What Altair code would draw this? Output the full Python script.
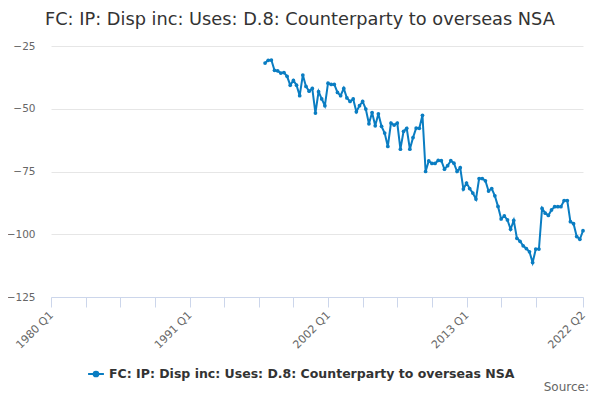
import altair as alt
import pandas as pd

series_name = "FC: IP: Disp inc: Uses: D.8: Counterparty to overseas NSA"
title_text = "FC: IP: Disp inc: Uses: D.8: Counterparty to overseas NSA"

# quarter index since 1980 Q1 (1997 Q1 = 68 ... 2022 Q2 = 169)
start_index = 68
values = [
    -31.8, -30.7, -30.6, -34.7, -34.9, -35.8, -35.6, -37.1, -40.6, -38.7,
    -40.6, -44.8, -36.6, -41.1, -43.0, -41.9, -51.7, -43.2, -46.1, -48.8,
    -39.8, -40.3, -40.3, -43.5, -44.8, -41.9, -45.7, -47.1, -46.1, -51.2,
    -48.8, -47.1, -50.1, -56.0, -51.5, -56.8, -52.0, -57.0, -59.7, -65.0,
    -55.7, -56.5, -55.7, -66.1, -59.0, -57.8, -66.1, -61.5, -57.7, -57.8,
    -52.6, -75.0, -70.8, -71.8, -71.8, -70.6, -70.7, -74.1, -72.7, -70.7,
    -71.7, -75.0, -73.5, -82.0, -79.6, -81.8, -83.6, -86.0, -77.8, -77.8,
    -78.7, -82.8, -81.8, -84.7, -88.9, -93.9, -92.7, -94.3, -98.0, -94.5,
    -101.6, -102.8, -104.6, -105.7, -107.0, -111.3, -105.9, -105.9, -89.7, -91.6,
    -92.5, -90.3, -89.0, -89.0, -89.0, -86.6, -86.6, -95.0, -95.8, -100.9,
    -102.0, -98.6,
]
quarter_index = list(range(start_index, start_index + len(values)))
labels = [f"{1980 + q // 4} Q{q % 4 + 1}" for q in quarter_index]

tick_values = [0, 11, 22, 33, 44, 55, 66, 77, 88, 99, 110, 121, 132, 143, 154, 169]
label_values = [0, 44, 88, 132, 169]
y_ticks = [-125, -100, -75, -50, -25]

df = pd.DataFrame({"q": quarter_index, "value": values, "label": labels,
                   "series": series_name})

color = "#0a7dc2"
font = "DejaVu Sans"

label_expr = ("indexof([" + ",".join(str(v) for v in label_values) + "], datum.value) >= 0 ? "
              "(1980 + floor(datum.value / 4)) + ' Q' + (datum.value % 4 + 1) : ''")

base = alt.Chart(df).encode(
    x=alt.X("q:Q",
            scale=alt.Scale(domain=[0, 169], nice=False, zero=False),
            axis=alt.Axis(title=None, values=tick_values, labelExpr=label_expr,
                          labelAngle=-45, labelAlign="right", labelBaseline="top",
                          labelFontSize=11, labelColor="#666666", labelFont=font,
                          labelPadding=2, labelOffset=-4, labelOverlap=False,
                          labelFlush=False,
                          grid=False, domainColor="#ccd6eb", tickColor="#ccd6eb",
                          tickSize=10, domainWidth=1)),
    y=alt.Y("value:Q",
            scale=alt.Scale(domain=[-125, -25], nice=False, zero=False),
            axis=alt.Axis(title=None, values=y_ticks, labelFontSize=10.5,
                          labelColor="#666666", labelFont=font, labelPadding=16,
                          grid=True, gridColor="#e6e6e6", domain=False, ticks=False)),
    color=alt.Color("series:N", scale=alt.Scale(range=[color]),
                    legend=alt.Legend(title=None, orient="none", legendX=36, legendY=319,
                                      direction="horizontal", padding=0,
                                      symbolType="M-1,0L1,0M-0.3,0a0.3,0.3 0 1,0 0.6,0a0.3,0.3 0 1,0 -0.6,0",
                                      symbolSize=250, symbolStrokeWidth=2,
                                      labelFontSize=12.5, labelFontWeight="bold",
                                      labelColor="#333333", labelFont=font,
                                      labelLimit=600)),
)

line = base.mark_line(strokeWidth=2)
points = base.mark_point(filled=True, size=14, opacity=1)

source = alt.Chart(pd.DataFrame({"t": ["Source:"]})).mark_text(
    align="right", baseline="alphabetic", fontSize=12, color="#666666", font=font
).encode(x=alt.value(538), y=alt.value(344.5), text="t:N")

chart = alt.layer(line, points, source).properties(
    width=532, height=251,
    title=alt.TitleParams(title_text, anchor="start", fontSize=17.75, fontWeight="normal",
                          color="#333333", font=font, frame="group", offset=12, dx=-6),
    padding={"left": 43, "top": 38, "right": 9, "bottom": 95},
    autosize=alt.AutoSizeParams(type="none"),
).configure_view(stroke=None)

chart.save("out.html", embed_options={"renderer": "svg", "actions": False})
